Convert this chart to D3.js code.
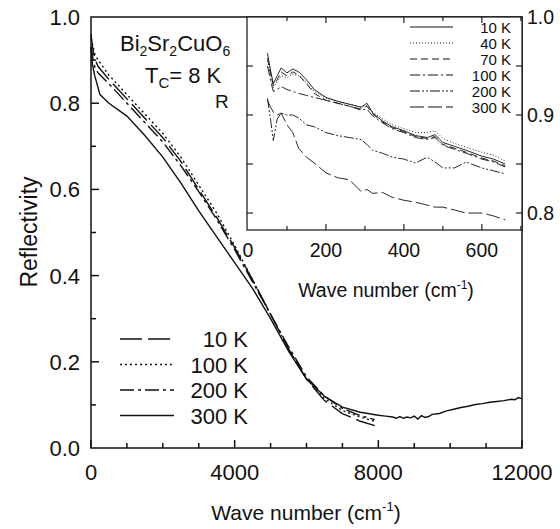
<!DOCTYPE html>
<html>
<head>
<meta charset="utf-8">
<script src="https://cdn.jsdelivr.net/npm/d3@7"></script>
<style>
  body { margin: 0; background: #fff; }
  svg { font-family: "Liberation Sans", Arial, sans-serif; }
  text { fill: #111; }
</style>
</head>
<body>
<script>
// main panel: reflectivity vs wave number
const mainLabels = ["10 K", "100 K", "200 K", "300 K"];
const mainDash = ["22,6", "2,3", "14,4,3,4", null];
const wn10 = [0, 60, 120, 200, 500, 1000, 1500, 2000, 2500, 3000, 3500, 4000, 4500, 5000, 5500, 6000, 6500, 7000, 7500, 7900];
const r10  = [0.96, 0.92, 0.9, 0.885, 0.855, 0.81, 0.765, 0.72, 0.665, 0.60, 0.535, 0.465, 0.39, 0.31, 0.23, 0.16, 0.11, 0.08, 0.062, 0.052];
const r100 = [0.95, 0.93, 0.91, 0.9, 0.865, 0.82, 0.775, 0.73, 0.675, 0.61, 0.545, 0.47, 0.39, 0.31, 0.23, 0.16, 0.115, 0.087, 0.072, 0.062];
const r200 = [0.93, 0.9, 0.88, 0.87, 0.845, 0.80, 0.755, 0.71, 0.655, 0.595, 0.53, 0.46, 0.385, 0.31, 0.235, 0.165, 0.12, 0.092, 0.075, 0.066];
const wn300 = [0, 40, 100, 250, 500, 1000, 1500, 2000, 2500, 3000, 3500, 4000, 4500, 5000, 5500, 6000, 6500, 7000, 7500, 8000,
  8200, 8400, 8500, 8600, 8700, 8800, 8900, 9000, 9100, 9200, 9300, 9400, 9500, 9700, 9900, 10100, 10300, 10500, 10700, 10900,
  11100, 11300, 11500, 11700, 11800, 11900, 12000];
const r300 = [0.93, 0.89, 0.865, 0.82, 0.80, 0.77, 0.725, 0.675, 0.615, 0.55, 0.49, 0.43, 0.37, 0.30, 0.225, 0.16, 0.12, 0.095, 0.083, 0.076,
  0.074, 0.072, 0.069, 0.073, 0.069, 0.072, 0.07, 0.074, 0.067, 0.075, 0.071, 0.073, 0.078, 0.08, 0.086, 0.09, 0.094, 0.097, 0.101, 0.103,
  0.106, 0.108, 0.11, 0.113, 0.112, 0.117, 0.114];

// inset: far-infrared detail
const insLabels = ["10 K", "40 K", "70 K", "100 K", "200 K", "300 K"];
const insDash = [null, "1,2", "7,4", "10,3,2,3", "10,2,2,2,2,2", "14,4"];
const insWn = [50, 58, 65, 75, 85, 100, 115, 130, 150, 170, 200, 230, 260, 290, 305, 320, 345, 370, 400, 430, 460, 480, 500, 530, 560, 600, 630, 660];
const ins10  = [0.963, 0.945, 0.932, 0.94, 0.948, 0.943, 0.947, 0.944, 0.936, 0.926, 0.918, 0.914, 0.911, 0.908, 0.912, 0.902, 0.894, 0.888, 0.884, 0.879, 0.877, 0.88, 0.872, 0.868, 0.864, 0.858, 0.855, 0.85];
const ins40  = [0.955, 0.94, 0.928, 0.934, 0.94, 0.938, 0.942, 0.94, 0.933, 0.924, 0.917, 0.914, 0.911, 0.908, 0.91, 0.903, 0.896, 0.89, 0.886, 0.882, 0.882, 0.884, 0.876, 0.871, 0.867, 0.862, 0.859, 0.853];
const ins70  = [0.958, 0.942, 0.93, 0.936, 0.944, 0.94, 0.944, 0.941, 0.932, 0.922, 0.915, 0.912, 0.909, 0.906, 0.909, 0.901, 0.893, 0.887, 0.883, 0.878, 0.876, 0.878, 0.87, 0.866, 0.862, 0.856, 0.853, 0.848];
const ins100 = [0.95, 0.935, 0.924, 0.926, 0.929, 0.926, 0.924, 0.922, 0.92, 0.918, 0.915, 0.912, 0.909, 0.905, 0.906, 0.899, 0.892, 0.886, 0.882, 0.877, 0.875, 0.877, 0.869, 0.865, 0.861, 0.855, 0.852, 0.847];
const ins200 = [0.917, 0.895, 0.874, 0.896, 0.902, 0.9, 0.9, 0.897, 0.89, 0.888, 0.882, 0.879, 0.877, 0.875, 0.87, 0.864, 0.861, 0.857, 0.855, 0.851, 0.857, 0.852, 0.846, 0.846, 0.852, 0.846, 0.843, 0.84];
const ins300 = [0.915, 0.908, 0.903, 0.9, 0.902, 0.89, 0.882, 0.866, 0.857, 0.851, 0.841, 0.836, 0.834, 0.822, 0.824, 0.82, 0.821, 0.816, 0.813, 0.811, 0.808, 0.806, 0.806, 0.803, 0.8, 0.8, 0.797, 0.793];

const W = 560, H = 529;
const svg = d3.select("body").append("svg").attr("width", W).attr("height", H);

// ---------- main panel ----------
const x = d3.scaleLinear().domain([0, 12000]).range([91, 522]);
const y = d3.scaleLinear().domain([0, 1]).range([448, 17]);

svg.append("rect").attr("x", 91).attr("y", 17).attr("width", 431).attr("height", 431)
  .attr("fill", "none").attr("stroke", "#111").attr("stroke-width", 1.5);

function ticks(g, scale, vals, len, horiz) {
  vals.forEach(v => {
    if (horiz) g.append("line").attr("x1", scale(v)).attr("x2", scale(v)).attr("y1", 448).attr("y2", 448 - len);
    else g.append("line").attr("y1", scale(v)).attr("y2", scale(v)).attr("x1", 91).attr("x2", 91 + len);
  });
}
const tg = svg.append("g").attr("stroke", "#111").attr("stroke-width", 1.5);
ticks(tg, x, d3.range(0, 12001, 4000), 8, true);
ticks(tg, x, d3.range(1000, 12000, 1000).filter(v => v % 4000), 5, true);
ticks(tg, y, [0.2, 0.4, 0.6, 0.8], 8, false);
ticks(tg, y, [0.1, 0.3, 0.5, 0.7, 0.9], 5, false);

svg.append("g").selectAll("text").data(d3.range(0, 12001, 4000)).join("text")
  .attr("x", d => x(d)).attr("y", 480).attr("text-anchor", "middle")
  .attr("font-size", 22).text(d => d);
svg.append("g").selectAll("text").data([0, 0.2, 0.4, 0.6, 0.8, 1.0]).join("text")
  .attr("x", 80).attr("y", d => y(d) + 8).attr("text-anchor", "end")
  .attr("font-size", 22).text(d => d.toFixed(1));

const xt = svg.append("text").attr("x", 306).attr("y", 520).attr("text-anchor", "middle").attr("font-size", 21);
xt.append("tspan").text("Wave number (cm");
xt.append("tspan").attr("font-size", 13).attr("dy", -9).text("-1");
xt.append("tspan").attr("dy", 9).text(")");
svg.append("text").attr("transform", "translate(37,232) rotate(-90)").attr("text-anchor", "middle")
  .attr("font-size", 23).text("Reflectivity");

const mainSeries = [
  wn10.map((w, i) => [w, r10[i]]),
  wn10.map((w, i) => [w, r100[i]]),
  wn10.map((w, i) => [w, r200[i]]),
  wn300.map((w, i) => [w, r300[i]])
];
const line = d3.line().x(d => x(d[0])).y(d => y(d[1]));
svg.append("g").selectAll("path").data(mainSeries).join("path")
  .attr("d", line).attr("fill", "none").attr("stroke", "#111").attr("stroke-width", 1.4)
  .attr("stroke-dasharray", (d, i) => mainDash[i]);

// legend
const lg = svg.append("g");
mainLabels.forEach((lab, i) => {
  const yy = 339 + i * 25.5;
  lg.append("line").attr("x1", 120).attr("x2", 174).attr("y1", yy).attr("y2", yy)
    .attr("stroke", "#111").attr("stroke-width", 1.5).attr("stroke-dasharray", mainDash[i]);
  lg.append("text").attr("x", 248).attr("y", yy + 8).attr("text-anchor", "end").attr("font-size", 22).text(lab);
});

const t1 = svg.append("text").attr("x", 120).attr("y", 51).attr("font-size", 22);
t1.append("tspan").text("Bi");
t1.append("tspan").attr("font-size", 14).attr("dy", 5).text("2");
t1.append("tspan").attr("dy", -5).text("Sr");
t1.append("tspan").attr("font-size", 14).attr("dy", 5).text("2");
t1.append("tspan").attr("dy", -5).text("CuO");
t1.append("tspan").attr("font-size", 14).attr("dy", 5).text("6");
const t2 = svg.append("text").attr("x", 145).attr("y", 83).attr("font-size", 22);
t2.append("tspan").text("T");
t2.append("tspan").attr("font-size", 15).attr("dy", 5).text("C");
t2.append("tspan").attr("dy", -5).text("= 8 K");

// ---------- inset ----------
const ix = d3.scaleLinear().domain([0, 703]).range([248, 522]);
const iy = d3.scaleLinear().domain([0.8, 1.0]).range([213, 17]);
const iB = 230, iL = 247;

svg.append("rect").attr("x", iL).attr("y", 17).attr("width", 522 - iL).attr("height", iB - 17)
  .attr("fill", "#fff").attr("stroke", "#111").attr("stroke-width", 1.2);

const ig = svg.append("g").attr("stroke", "#111").attr("stroke-width", 1.1);
d3.range(100, 701, 100).forEach(v => {
  const len = v % 200 ? 4 : 6;
  ig.append("line").attr("x1", ix(v)).attr("x2", ix(v)).attr("y1", iB).attr("y2", iB - len);
  ig.append("line").attr("x1", ix(v)).attr("x2", ix(v)).attr("y1", 17).attr("y2", 17 + len);
});
[0.8, 0.85, 0.9, 0.95].forEach(v => {
  ig.append("line").attr("x1", iL).attr("x2", iL + 6).attr("y1", iy(v)).attr("y2", iy(v));
  ig.append("line").attr("x1", 522).attr("x2", 516).attr("y1", iy(v)).attr("y2", iy(v));
});

svg.append("g").selectAll("text").data([0, 200, 400, 600]).join("text")
  .attr("x", d => ix(d)).attr("y", 257).attr("text-anchor", "middle").attr("font-size", 19.5).text(d => d);
svg.append("g").selectAll("text").data([0.8, 0.9, 1.0]).join("text")
  .attr("x", 527).attr("y", d => iy(d) + 7).attr("font-size", 19.5).text(d => d.toFixed(1));
const it = svg.append("text").attr("x", 386).attr("y", 297).attr("text-anchor", "middle").attr("font-size", 19.5);
it.append("tspan").text("Wave number (cm");
it.append("tspan").attr("font-size", 12).attr("dy", -8).text("-1");
it.append("tspan").attr("dy", 8).text(")");
svg.append("text").attr("x", 215).attr("y", 108).attr("font-size", 19).text("R");

const insVals = [ins10, ins40, ins70, ins100, ins200, ins300];
const iline = d3.line().x(d => ix(d[0])).y(d => iy(d[1]));
svg.append("g").selectAll("path").data(insVals.map(v => insWn.map((w, i) => [w, v[i]]))).join("path")
  .attr("d", iline).attr("fill", "none").attr("stroke", "#111").attr("stroke-width", 0.9)
  .attr("stroke-dasharray", (d, i) => insDash[i]);

const il = svg.append("g");
insLabels.forEach((lab, i) => {
  const yy = 27 + i * 16;
  il.append("line").attr("x1", 410).attr("x2", 453).attr("y1", yy).attr("y2", yy)
    .attr("stroke", "#111").attr("stroke-width", 1).attr("stroke-dasharray", insDash[i]);
  il.append("text").attr("x", 511).attr("y", yy + 5.5).attr("text-anchor", "end").attr("font-size", 15).text(lab);
});
</script>
</body>
</html>
